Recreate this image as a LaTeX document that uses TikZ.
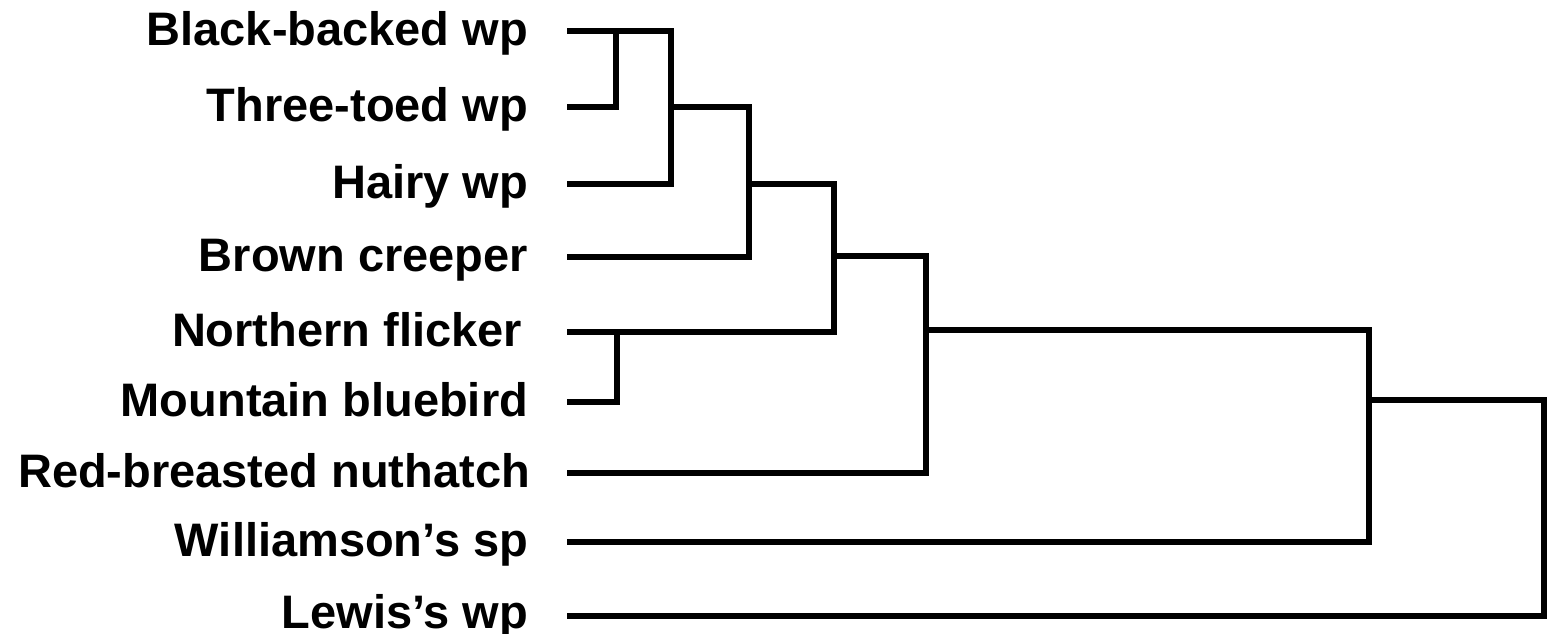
\documentclass[tikz,border=0pt]{standalone}
\usepackage{fontspec}
\setmainfont{Liberation Sans}
\begin{document}
\begin{tikzpicture}[x=1pt,y=-1pt,
  taxon/.style={anchor=east,inner sep=0pt,outer sep=0pt,
    font=\fontsize{47}{50}\selectfont\bfseries,text height=29pt,text depth=0pt},
  branch/.style={line width=6.4pt,line join=miter,line cap=butt}]
\useasboundingbox (0,0) rectangle (1547,634);

% taxon labels, right-aligned
\node[taxon] (bb) at (528,31)  {Black-backed wp};
\node[taxon] (tt) at (528,107) {Three-toed wp};
\node[taxon] (ha) at (528,184) {Hairy wp};
\node[taxon] (bc) at (528,257) {Brown creeper};
\node[taxon] (nf) at (522,332) {Northern flicker};
\node[taxon] (mb) at (528,402) {Mountain bluebird};
\node[taxon] (rb) at (530,473) {Red-breasted nuthatch};
\node[taxon] (ws) at (528,542) {Williamson’s sp};
\node[taxon] (lw) at (528,614) {Lewis’s wp};

% start points of the leaf branches
\foreach \t/\y in {bb/31,tt/107,ha/184,bc/257,nf/332,mb/402,rb/473,ws/542,lw/616}
  \coordinate (s\t) at (567,\y);

% cluster joins
\coordinate (jA) at (616,31);
\coordinate (jB) at (671,107);
\coordinate (jC) at (749,184);
\coordinate (jD) at (617,332);
\coordinate (jE) at (834,256);
\coordinate (jF) at (926,330);
\coordinate (jG) at (1369,400);

\begin{scope}[branch]
\draw (sbb) -- (671,31) -- (671,184) -- (sha);
\draw (stt) -- (616,107) -- (jA);
\draw (jB) -- (749,107) -- (749,257) -- (sbc);
\draw (jC) -- (834,184) -- (834,332) -- (snf);
\draw (smb) -- (617,402) -- (jD);
\draw (jE) -- (926,256) -- (926,473) -- (srb);
\draw (jF) -- (1369,330) -- (1369,542) -- (sws);
\draw (jG) -- (1543.8,400) -- (1543.8,616) -- (slw);
\end{scope}
\end{tikzpicture}
\end{document}
